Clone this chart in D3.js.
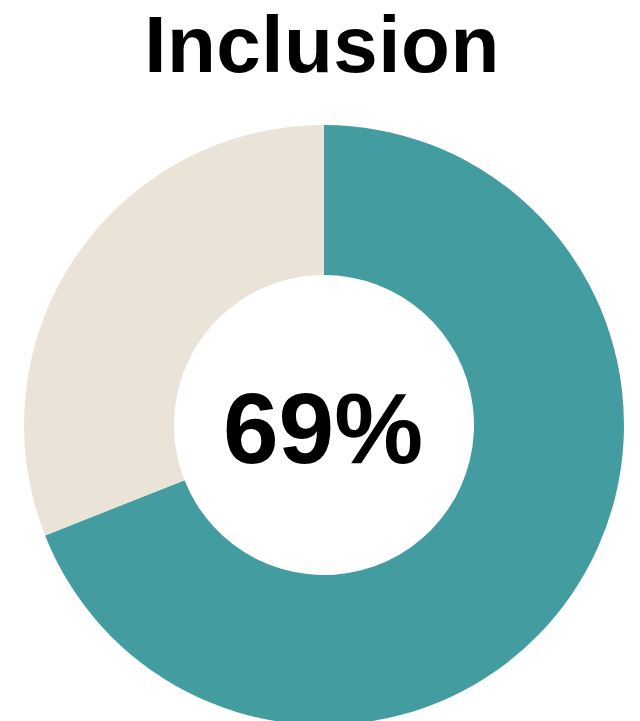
<!DOCTYPE html>
<html>
<head>
<meta charset="utf-8">
<script src="https://cdn.jsdelivr.net/npm/d3@7"></script>
<style>
  html, body { margin: 0; padding: 0; background: #fff; }
  svg { display: block; }
</style>
</head>
<body>
<svg id="chart" width="640" height="721"></svg>
<script>
const title = "Inclusion";
const categories = ["Included", "Remaining"];
const values = [69, 31];
const colors = ["#439DA0", "#EAE4D8"];
const centerLabel = "69%";

const svg = d3.select("#chart");
const cx = 324, cy = 425, outerR = 300, innerR = 150;

svg.append("text")
  .attr("x", 322).attr("y", 72)
  .attr("text-anchor", "middle")
  .attr("font-family", "Liberation Sans, Arial, sans-serif")
  .attr("font-weight", "bold")
  .attr("font-size", 80)
  .attr("letter-spacing", 0.5)
  .attr("fill", "#000")
  .text(title);

const pie = d3.pie().sort(null).value(d => d.value);
const arc = d3.arc().innerRadius(innerR).outerRadius(outerR);
const data = categories.map((c, i) => ({ name: c, value: values[i], color: colors[i] }));

const g = svg.append("g").attr("transform", `translate(${cx},${cy})`);
g.selectAll("path")
  .data(pie(data))
  .join("path")
  .attr("d", arc)
  .attr("fill", d => d.data.color);

g.append("text")
  .attr("x", -1).attr("y", 38)
  .attr("text-anchor", "middle")
  .attr("font-family", "Liberation Sans, Arial, sans-serif")
  .attr("font-weight", "bold")
  .attr("font-size", 100)
  .attr("fill", "#000")
  .text(centerLabel);
</script>
</body>
</html>
